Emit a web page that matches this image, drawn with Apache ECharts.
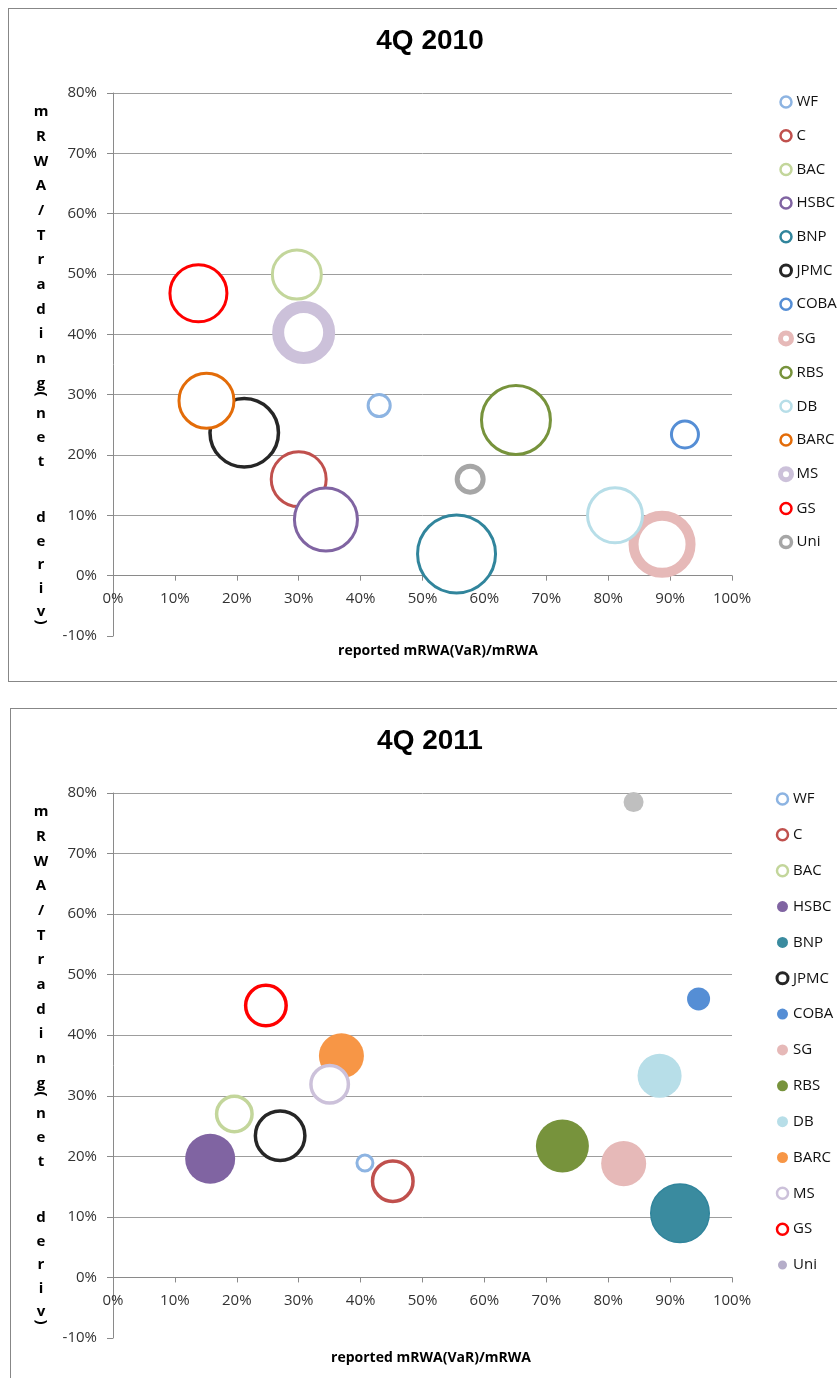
<!DOCTYPE html>
<html>
<head>
<meta charset="utf-8">
<script src="https://cdn.jsdelivr.net/npm/echarts@6/dist/echarts.min.js"></script>
<style>
html,body{margin:0;padding:0;background:#fff;width:837px;height:1378px;overflow:hidden;position:relative;}
.panel{position:absolute;border:1px solid #878787;box-sizing:border-box;}
.chart{position:absolute;left:0;width:837px;}
</style>
</head>
<body>
<div class="panel" style="left:8px;top:8px;width:860px;height:674px;"></div>
<div class="panel" style="left:10px;top:708px;width:860px;height:700px;"></div>
<div id="c1" class="chart" style="top:0;height:690px;"></div>
<div id="c2" class="chart" style="top:690px;height:688px;"></div>
<script>
// ---- data ----
const banks = ['WF','C','BAC','HSBC','BNP','JPMC','COBA','SG','RBS','DB','BARC','MS','GS','Uni'];
// 4Q 2010: x = reported mRWA(VaR)/mRWA (%), y = mRWA/Trading(net deriv) (%), size = bubble size
const x2010 = [43.0, 30.0, 29.7, 34.4, 55.5, 21.2, 92.4, 88.7, 65.1, 81.1, 15.1, 30.8, 13.8, 57.7];
const y2010 = [28.2, 16.0, 49.9, 9.3, 3.6, 23.7, 23.4, 5.2, 25.8, 10.0, 29.0, 40.3, 46.8, 16.0];
const s2010 = [6.3, 33.6, 27.0, 43.6, 65.6, 51.8, 9.0, 44.9, 51.8, 33.6, 33.6, 39.7, 36.0, 9.6];
// 4Q 2011
const x2011 = [40.7, 45.2, 19.6, 15.7, 91.6, 27.0, 94.6, 82.5, 72.6, 88.3, 36.9, 35.0, 24.7, 84.1];
const y2011 = [18.9, 15.9, 27.0, 19.6, 10.6, 23.4, 46.0, 18.8, 21.7, 33.3, 36.6, 31.9, 44.9, 78.5];
const s2011 = [3.6, 19.4, 15.2, 25.0, 36.0, 28.1, 5.3, 20.3, 28.1, 19.4, 20.3, 16.8, 19.4, 4.0];
// axis ticks
const xMin = 0, xMax = 100, xStep = 10;
const yMin = -10, yMax = 80, yStep = 10;
const xAxisTitle = 'reported mRWA(VaR)/mRWA';
const yAxisTitle = 'mRWA/Trading(net deriv)';

// ---- styles ----
// [color, fill, borderWidth, legendFill, legendBorder, legendBorderWidth]
const style2010 = [
  ['#8DB4E2','#fff',3,  '#fff','#8DB4E2',2.5],
  ['#C0504D','#fff',3,  '#fff','#C0504D',2.5],
  ['#C3D69B','#fff',3,  '#fff','#C3D69B',2.5],
  ['#8064A2','#fff',3,  '#fff','#8064A2',2.5],
  ['#31859C','#fff',3,  '#fff','#31859C',2.5],
  ['#262626','#fff',3.5,'#fff','#262626',3],
  ['#558ED5','#fff',3,  '#fff','#558ED5',2.5],
  ['#E6B9B8','#fff',10, '#fff','#E6B9B8',5],
  ['#77933C','#fff',3,  '#fff','#77933C',2.5],
  ['#B7DEE8','#fff',3,  '#fff','#B7DEE8',2.5],
  ['#E36C09','#fff',3,  '#fff','#E36C09',2.5],
  ['#CCC1DA','#fff',12, '#fff','#CCC1DA',5],
  ['#FF0000','#fff',3,  '#fff','#FF0000',2.5],
  ['#A6A6A6','#fff',5,  '#fff','#A6A6A6',3.5]
];
const style2011 = [
  ['#8DB4E2','#fff',3,  '#fff','#8DB4E2',2.5],
  ['#C0504D','#fff',3.5,'#fff','#C0504D',2.5],
  ['#C3D69B','#fff',3.5,'#fff','#C3D69B',2.5],
  ['#8064A2','#8064A2',0,'#8064A2','#8064A2',0],
  ['#31859C','#3A8B9F',1.5,'#3A8B9F','#3A8B9F',0],
  ['#262626','#fff',3.5,'#fff','#262626',3],
  ['#558ED5','#558ED5',0,'#558ED5','#558ED5',0],
  ['#E6B9B8','#E6B9B8',0,'#E6B9B8','#E6B9B8',0],
  ['#77933C','#77933C',0,'#77933C','#77933C',0],
  ['#B7DEE8','#B7DEE8',0,'#B7DEE8','#B7DEE8',0],
  ['#F79646','#F79646',0,'#F79646','#F79646',0],
  ['#CCC1DA','#fff',3.5,'#fff','#CCC1DA',2.5],
  ['#FF0000','#fff',3.5,'#fff','#FF0000',2.5],
  ['#BFBFBF','#BFBFBF',0,'#B5ADC9','#fff',2]
];

const LABEL_FONT = '"Open Sans", "Liberation Sans", sans-serif';
// vertical stacked y title layout (offset from first char)
const yTitleOffsets = [0,24.7,49.4,74,98.8,123.5,148,173,197.6,222,247,271.7,282,302,326,350,null,406,430,453,477,500,510];

function buildOption(title, xs, ys, ss, st, L) {
  const series = banks.map((b, i) => ({
    type: 'scatter',
    name: b,
    silent: true,
    animation: false,
    xAxisIndex: 0, yAxisIndex: 0,
    z: 2 + i,
    data: [[xs[i], ys[i], ss[i]]],
    symbol: 'circle',
    symbolSize: v => Math.max(2, 10 * Math.sqrt(v[2]) - st[i][2]),
    itemStyle: { color: st[i][1], borderColor: st[i][0], borderWidth: st[i][2], opacity: 1 },
    emphasis: { disabled: true }
  }));
  const legendData = banks.map((b, i) => ({
    name: b, icon: 'circle',
    itemStyle: { color: st[i][3], borderColor: st[i][4], borderWidth: st[i][5] }
  }));
  const splitColors = [];
  for (let v = yMin; v <= yMax; v += yStep) splitColors.push(v === yMin ? 'rgba(0,0,0,0)' : '#9D9D9D');

  const graphic = [];
  graphic.push({ type: 'text', x: L.titleX, y: L.titleY, silent: true,
    style: { text: title, font: 'bold 28px "Liberation Sans Narrow", "Liberation Sans", sans-serif', fill: '#000', align: 'center', verticalAlign: 'middle' } });
  graphic.push({ type: 'text', x: L.xNameX, y: L.xNameY, silent: true,
    style: { text: xAxisTitle, font: 'bold 14px ' + LABEL_FONT, fill: '#000', align: 'center', verticalAlign: 'middle' } });
  const chars = yAxisTitle.split('');
  chars.forEach((c, i) => {
    if (yTitleOffsets[i] === null) return;
    const paren = (c === '(' || c === ')');
    graphic.push({ type: 'text', x: 41, y: L.gridTop + 19 + yTitleOffsets[i], rotation: paren ? -Math.PI / 2 : 0, silent: true,
      style: { text: c, font: 'bold 15px ' + LABEL_FONT, fill: '#000', align: 'center', verticalAlign: 'middle' } });
  });

  // the x axis crosses at y = 0: a second grid spanning the positive part carries it
  const upperHeight = L.gridHeight * (yMax - 0) / (yMax - yMin);

  return {
    animation: false,
    backgroundColor: 'transparent',
    grid: [
      { left: 113, width: 619, top: L.gridTop, height: L.gridHeight, containLabel: false },
      { left: 113, width: 619, top: L.gridTop, height: upperHeight, containLabel: false }
    ],
    xAxis: [
      { type: 'value', gridIndex: 0, min: xMin, max: xMax, interval: xStep, show: false },
      {
        type: 'value', gridIndex: 1, min: xMin, max: xMax, interval: xStep, position: 'bottom',
        axisLine: { show: true, onZero: false, lineStyle: { color: '#8A8A8A', width: 1 } },
        axisTick: { show: true, length: 5, lineStyle: { color: '#8A8A8A' } },
        axisLabel: { formatter: '{value}%', margin: 16, color: '#333', fontSize: 15, fontFamily: LABEL_FONT },
        splitLine: { show: false }
      }
    ],
    yAxis: [
      {
        type: 'value', gridIndex: 0, min: yMin, max: yMax, interval: yStep,
        axisLine: { show: true, onZero: false, lineStyle: { color: '#8A8A8A', width: 1 } },
        axisTick: { show: true, length: 6, lineStyle: { color: '#8A8A8A' } },
        axisLabel: { formatter: '{value}%', margin: 16, color: '#333', fontSize: 15, fontFamily: LABEL_FONT },
        splitLine: { show: true, lineStyle: { color: splitColors, width: 1 } }
      },
      { type: 'value', gridIndex: 1, min: 0, max: yMax, interval: yStep, show: false }
    ],
    legend: {
      orient: 'vertical', left: L.legLeft, top: L.legTop, itemGap: L.legGap, padding: 0,
      itemWidth: 11, itemHeight: 11, selectedMode: false,
      textStyle: { fontSize: 15, fontFamily: LABEL_FONT, color: '#111', lineHeight: 12 },
      data: legendData
    },
    graphic: graphic,
    series: series
  };
}

const c1 = echarts.init(document.getElementById('c1'), null, { renderer: 'canvas' });
c1.setOption(buildOption('4Q 2010', x2010, y2010, s2010, style2010,
  { gridTop: 93, gridHeight: 543, titleX: 430, titleY: 41, xNameX: 438, xNameY: 651,
    legLeft: 778, legTop: 94.5, legGap: 18.7 }));

const c2 = echarts.init(document.getElementById('c2'), null, { renderer: 'canvas' });
c2.setOption(buildOption('4Q 2011', x2011, y2011, s2011, style2011,
  { gridTop: 103, gridHeight: 545, titleX: 430, titleY: 51, xNameX: 431, xNameY: 668,
    legLeft: 775.5, legTop: 101.5, legGap: 20.85 }));
</script>
</body>
</html>
